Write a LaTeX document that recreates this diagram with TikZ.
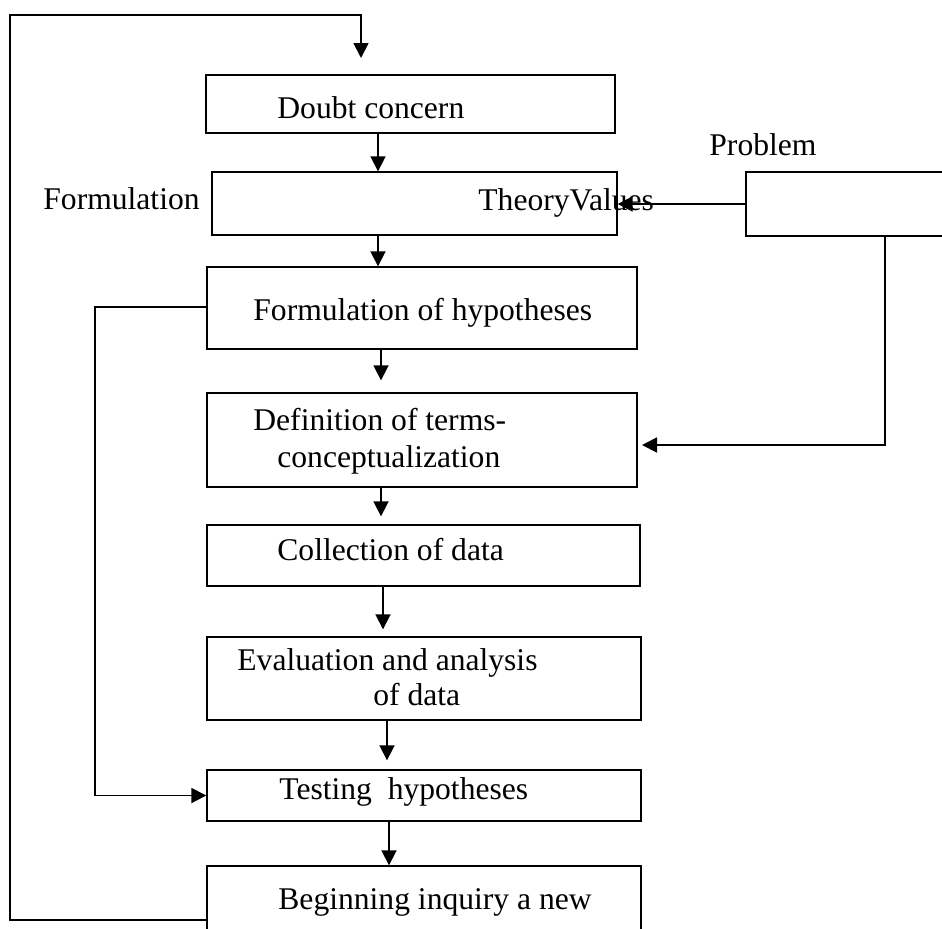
\documentclass[tikz,border=0pt]{standalone}
\usepackage{fontspec}
\setmainfont{Liberation Serif}
\usepackage{tikz}
\usetikzlibrary{arrows.meta,positioning,calc}

\begin{document}
\begin{tikzpicture}[x=0.5pt,y=-0.5pt,
  box/.style={rectangle,draw,line width=0.7pt,inner sep=0pt},
  txt/.style={anchor=base west,inner sep=0pt,font=\fontsize{15.8}{19}\selectfont},
  arrow/.style={-{Triangle[length=7.5pt,width=7.5pt]},line width=0.9pt}
]
\useasboundingbox (0,0) rectangle (942,928);
\clip (0,0) rectangle (942,928);
% boxes
\node[box,minimum width=204.5pt,minimum height=29pt] (doubt) at (410.5,104) {};
\node[box,minimum width=202.5pt,minimum height=31.5pt] (form) at (414.5,203.5) {};
\node[box,minimum width=117pt,minimum height=32pt] (prob) at (863,204) {};
\node[box,minimum width=215pt,minimum height=41pt] (hyp) at (422,308) {};
\node[box,minimum width=215pt,minimum height=47pt] (defn) at (422,440) {};
\node[box,minimum width=216.5pt,minimum height=30.5pt] (coll) at (423.5,555.5) {};
\node[box,minimum width=217pt,minimum height=41.5pt] (eval) at (424,678.5) {};
\node[box,minimum width=217pt,minimum height=25.5pt] (test) at (424,795.5) {};
\node[box,minimum width=217pt,minimum height=47pt] (anew) at (424,913) {};
% texts
\node[txt] (tdoubt) at (277,118) {Doubt concern};
\node[txt] (tform) at (43,209) {Formulation};
\node[txt] (ttheory) at (478,210) {TheoryValues};
\node[txt] (tprob) at (709,155) {Problem};
\node[txt] (thyp) at (253,320) {Formulation of hypotheses};
\node[txt] (tdefa) at (253,430) {Definition of terms-};
\node[txt] (tdefb) at (277,467) {conceptualization};
\node[txt] (tcoll) at (277,560) {Collection of data};
\node[txt] (tevala) at (237,670) {Evaluation and analysis};
\node[txt] (tevalb) at (373,705) {of data};
\node[txt] (ttest) at (279,799) {Testing\ \ hypotheses};
\node[txt] (tanew) at (278,909) {Beginning inquiry a new};
% connectors
\coordinate (topin) at (361,58);
\coordinate (outer) at (10,15);
\coordinate (inner) at (95,307);
\coordinate (pin) at (642,445);
\foreach \a/\b/\x/\s in {doubt/form/378/0,form/hyp/378/0,hyp/defn/381/6,defn/coll/381/4,coll/eval/383/3.5,eval/test/387/4.5,test/anew/389/0}
  \draw[arrow,shorten >=\s pt] (\a.south -| \x,0) -- (\b.north -| \x,0);
\draw[arrow] (anew.west |- 0,920) -| (outer) -| (topin);
\draw[arrow] (hyp.west |- inner) -- (inner) |- (test.west);
\draw[arrow] (prob.west) -- (form.east |- prob.west);
\draw[arrow] (prob.south -| 885,0) |- (pin);
\end{tikzpicture}
\end{document}
